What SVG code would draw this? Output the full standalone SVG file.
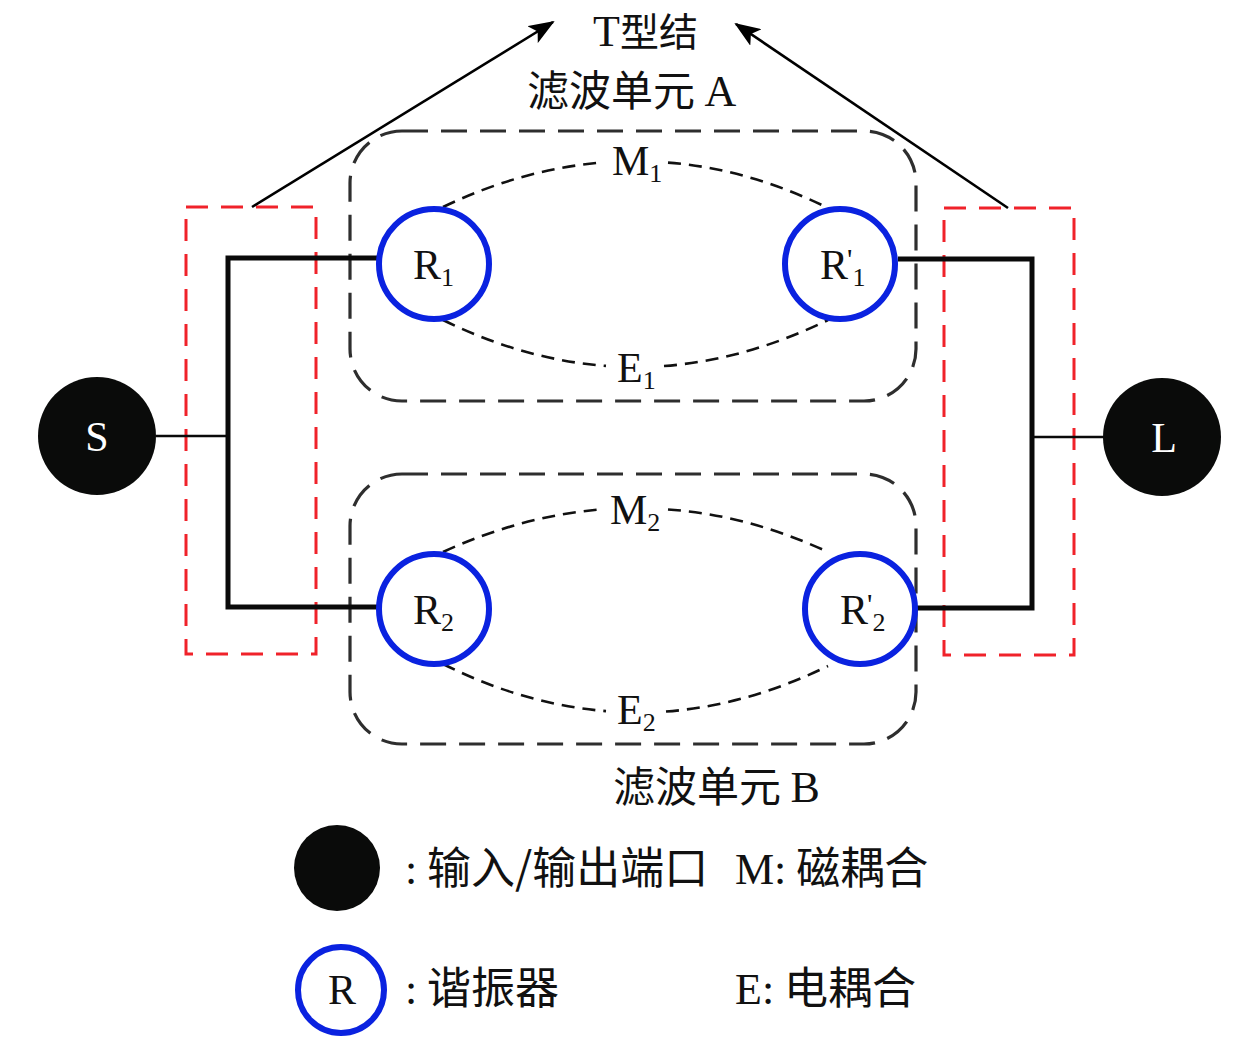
<svg xmlns="http://www.w3.org/2000/svg" width="1260" height="1048" viewBox="0 0 1260 1048">
<style>
.t{font-family:"Liberation Serif","Noto Sans CJK SC",serif;fill:#111;}
.cn{font-family:"Noto Sans CJK SC","Liberation Serif",sans-serif;fill:#111;}
.res{fill:#fff;stroke:#0a22e0;stroke-width:6;}
.port{fill:#0a0b0a;}
.red{fill:none;stroke:#f0222a;stroke-width:3;stroke-dasharray:22 13;}
.unit{fill:none;stroke:#2e2e2e;stroke-width:3.2;stroke-dasharray:26 13;}
.coup{fill:none;stroke:#111;stroke-width:2.6;stroke-dasharray:13 8;}
.wire{fill:none;stroke:#0a0a0a;stroke-width:5;}
.thin{fill:none;stroke:#0a0a0a;stroke-width:2.4;}
</style>
<defs>
<marker id="arr" viewBox="0 0 26 20" refX="24" refY="10" markerWidth="26" markerHeight="20" markerUnits="userSpaceOnUse" orient="auto">
<path d="M0,0 L26,10 L0,20 L6,10 Z" fill="#000"/>
</marker>
</defs>

<g id="unitA">
<rect class="unit" x="350" y="131" width="566" height="270" rx="52" ry="52"/>
<text class="cn" x="527" y="106" font-size="42">滤波单元 <tspan class="t" font-size="44">A</tspan></text>
</g>
<g id="unitB">
<rect class="unit" x="350" y="474" width="566" height="270" rx="52" ry="52"/>
<text class="cn" x="613" y="802" font-size="42">滤波单元 <tspan class="t" font-size="44">B</tspan></text>
</g>

<g id="tjunction-left">
<rect class="red" x="186" y="207" width="130" height="447"/>
</g>
<g id="tjunction-right">
<rect class="red" x="944" y="208" width="130" height="447"/>
</g>

<g id="connectors">
<path class="thin" d="M156,436 H228"/>
<path class="wire" d="M377,258 H228 V607 H377"/>
<path class="wire" d="M898,259 H1032 V608 H917"/>
<path class="thin" d="M1032,437 H1104"/>
<path class="coup" d="M443,207 Q521.3,169.5 600,162.7 M668,162.6 Q747.5,168.5 828,208"/>
<path class="coup" d="M443,320 Q524.2,359.8 606,365.9 M664,366 Q745.8,360 828,320"/>
<path class="coup" d="M443,552 Q521.3,516.1 600,509.5 M668,509.5 Q747.5,514.8 828,552"/>
<path class="coup" d="M443,664 Q524.2,704.6 606,711.1 M666,711.5 Q746.7,705.6 828,666"/>
<path fill="none" stroke="#000" stroke-width="2.6" d="M252,207 L553,22" marker-end="url(#arr)"/>
<path fill="none" stroke="#000" stroke-width="2.6" d="M1008,208 L736,24" marker-end="url(#arr)"/>
</g>

<g id="labels">
<text class="t" x="612" y="175" font-size="42">M<tspan font-size="26" dy="7">1</tspan></text>
<text class="t" x="617" y="382" font-size="42">E<tspan font-size="26" dy="7">1</tspan></text>
<text class="t" x="610" y="524" font-size="42">M<tspan font-size="26" dy="7">2</tspan></text>
<text class="t" x="617" y="724" font-size="42">E<tspan font-size="26" dy="7">2</tspan></text>
<text class="t" x="593" y="46" font-size="44">T<tspan font-family="Noto Sans CJK SC, sans-serif" font-size="39">型结</tspan></text>
</g>

<g id="S">
<circle class="port" cx="97" cy="436" r="59"/>
<text class="t" x="97" y="451" font-size="42" style="fill:#fff" text-anchor="middle">S</text>
</g>
<g id="L">
<circle class="port" cx="1162" cy="437" r="59"/>
<text class="t" x="1164" y="452" font-size="42" style="fill:#fff" text-anchor="middle">L</text>
</g>

<g id="R1">
<circle class="res" cx="434" cy="264" r="55"/>
<text class="t" x="413" y="279" font-size="42">R<tspan font-size="26" dy="7">1</tspan></text>
</g>
<g id="R1p">
<circle class="res" cx="840" cy="264" r="55"/>
<text class="t" x="820" y="279" font-size="42">R<tspan font-size="30" dx="-1" dy="-10">'</tspan><tspan font-size="26" dy="17">1</tspan></text>
</g>
<g id="R2">
<circle class="res" cx="434" cy="609" r="55"/>
<text class="t" x="413" y="624" font-size="42">R<tspan font-size="26" dy="7">2</tspan></text>
</g>
<g id="R2p">
<circle class="res" cx="860" cy="609" r="55"/>
<text class="t" x="840" y="624" font-size="42">R<tspan font-size="30" dx="-1" dy="-10">'</tspan><tspan font-size="26" dy="17">2</tspan></text>
</g>

<g id="legend">
<circle class="port" cx="337" cy="868" r="43"/>
<text class="cn" x="405" y="884" font-size="44"><tspan class="t">:</tspan> 输入/输出端口</text>
<text class="cn" x="735" y="884" font-size="44"><tspan class="t">M:</tspan> 磁耦合</text>
<circle class="res" cx="341" cy="990" r="43"/>
<text class="t" x="342" y="1004" font-size="42" text-anchor="middle">R</text>
<text class="cn" x="405" y="1004" font-size="44"><tspan class="t">:</tspan> 谐振器</text>
<text class="cn" x="735" y="1004" font-size="44"><tspan class="t">E:</tspan> 电耦合</text>
</g>
</svg>
